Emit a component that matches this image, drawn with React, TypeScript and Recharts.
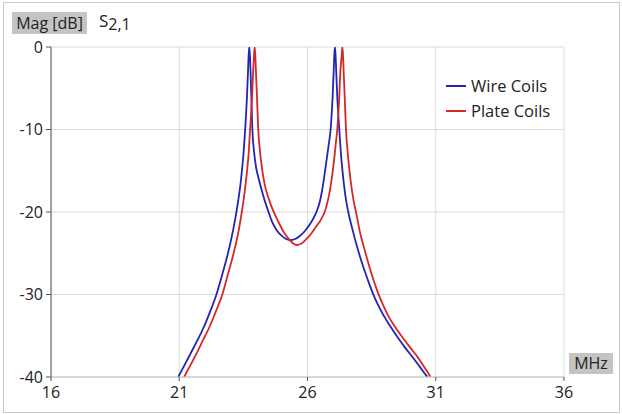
import { LineChart, Line, XAxis, YAxis, CartesianGrid, Legend } from 'recharts';

// S2,1 magnitude, frequency in MHz and magnitude in dB
const wireFreq = [
  20.96, 21.2, 21.45, 21.7, 21.95, 22.2, 22.45, 22.7, 22.9, 23.1, 23.25, 23.41, 23.51, 23.57,
  23.64, 23.68, 23.705, 23.73, 23.755, 23.78, 23.81, 23.85, 23.91, 23.99, 24.1, 24.21, 24.33,
  24.47, 24.62, 24.8, 25.0, 25.15, 25.32, 25.5, 25.7, 25.9, 26.1, 26.25, 26.38, 26.48, 26.55,
  26.64, 26.73, 26.81, 26.9, 26.98, 27.02, 27.045, 27.07, 27.095, 27.12, 27.16, 27.24, 27.3,
  27.38, 27.5, 27.59, 27.76, 27.95, 28.18, 28.36, 28.54, 28.74, 28.96, 29.24, 29.54, 29.82,
  30.12, 30.39, 30.65, 30.68,
];
const wireMag = [
  -40, -38.6, -37.1, -35.6, -34, -32.1, -30, -27.3, -25, -22.2, -19.6, -16, -12.7, -10,
  -6, -3, -1, 0, -1, -3, -6, -10, -12.5, -14.5, -16, -17.3, -18.6,
  -19.9, -21.2, -22.2, -22.9, -23.25, -23.4, -23.3, -22.9, -22.3, -21.45, -20.65, -19.75, -18.75, -17.7,
  -16, -14, -12.2, -10, -6, -3, -1, 0, -1, -3, -6, -10, -12.8,
  -15.5, -18.5, -20, -22.2, -24.4, -26.7, -28.3, -29.8, -31.2, -32.5, -33.9, -35.3, -36.5,
  -37.7, -38.8, -39.9, -40,
];

const plateFreq = [
  21.19, 21.43, 21.68, 21.93, 22.17, 22.42, 22.67, 22.92, 23.12, 23.32, 23.46, 23.61, 23.71,
  23.76, 23.84, 23.88, 23.915, 23.94, 23.965, 23.99, 24.03, 24.08, 24.14, 24.23, 24.34, 24.5,
  24.67, 24.85, 25.05, 25.25, 25.42, 25.6, 25.78, 25.95, 26.15, 26.35, 26.52, 26.68, 26.78,
  26.88, 26.96, 27.04, 27.1, 27.16, 27.24, 27.28, 27.335, 27.36, 27.385, 27.41, 27.45, 27.5,
  27.57, 27.67, 27.79, 27.89, 28.05, 28.22, 28.41, 28.58, 28.76, 28.95, 29.15, 29.43, 29.73,
  30.02, 30.32, 30.55, 30.78, 30.8,
];
const plateMag = [
  -40, -38.6, -37.1, -35.5, -34, -32.1, -30.1, -27.3, -25, -22.2, -19.6, -16, -12.7,
  -10, -6, -3, -1, 0, -1, -3, -6, -10, -12.4, -14.8, -16.8, -18.5,
  -19.9, -21.1, -22.3, -23.2, -23.75, -24, -23.8, -23.3, -22.6, -21.7, -20.95, -19.9, -18.8,
  -17.3, -15.6, -13.6, -11.8, -10, -6, -3, -1, 0, -1, -3, -6, -10,
  -12.9, -15.9, -18.5, -20, -22.5, -24.5, -26.6, -28.3, -29.9, -31.3, -32.6, -34, -35.3,
  -36.5, -37.7, -38.8, -39.9, -40,
];

const xTicks = [16, 21, 26, 31, 36];
const yTicks = [-40, -30, -20, -10, 0];

const wireData = wireFreq.map((f, i) => ({ f, mag: wireMag[i] }));
const plateData = plateFreq.map((f, i) => ({ f, mag: plateMag[i] }));

const FONT = '"Open Sans", "Noto Sans", sans-serif';
const BLUE = '#2424b4';
const RED = '#d42828';

function LegendBox() {
  const items = [
    { label: 'Wire Coils', color: BLUE },
    { label: 'Plate Coils', color: RED },
  ];
  return (
    <div style={{ fontFamily: FONT, fontSize: 16.5, color: '#222' }}>
      {items.map((it) => (
        <div key={it.label} style={{ display: 'flex', alignItems: 'center', height: 25 }}>
          <span style={{ display: 'inline-block', width: 20, height: 2, background: it.color, marginRight: 5 }} />
          <span>{it.label}</span>
        </div>
      ))}
    </div>
  );
}

export default function App() {
  return (
    <div
      style={{
        position: 'fixed',
        left: 0,
        top: 0,
        width: 622,
        height: 414,
        background: '#fff',
        fontFamily: FONT,
      }}
    >
      <div
        style={{
          position: 'absolute',
          left: 3,
          top: 2,
          width: 615,
          height: 409,
          border: '1px solid #c8c8c8',
        }}
      />
      <LineChart width={622} height={414} margin={{ top: 47, right: 58, bottom: 7, left: 11 }}>
        <CartesianGrid stroke="#dadada" strokeWidth={1} />
        <XAxis
          type="number"
          dataKey="f"
          domain={[16, 36]}
          ticks={xTicks}
          allowDataOverflow
          height={30}
          stroke="#c4c4c4"
          tickSize={4}
          tickLine={{ stroke: '#555' }}
          tick={{ fill: '#222', fontSize: 16, fontFamily: FONT, dy: 4 }}
        />
        <YAxis
          type="number"
          dataKey="mag"
          domain={[-40, 0]}
          ticks={yTicks}
          allowDataOverflow
          width={40}
          stroke="#555"
          tickSize={5}
          tick={{ fill: '#222', fontSize: 16, fontFamily: FONT, dx: -1 }}
        />
        <Legend
          layout="vertical"
          verticalAlign="middle"
          align="center"
          wrapperStyle={{ top: 73, left: 446, width: 140 }}
          content={() => <LegendBox />}
        />
        <Line
          data={wireData}
          dataKey="mag"
          type="monotone"
          stroke={BLUE}
          strokeWidth={1.8}
          dot={false}
          isAnimationActive={false}
        />
        <Line
          data={plateData}
          dataKey="mag"
          type="monotone"
          stroke={RED}
          strokeWidth={1.8}
          dot={false}
          isAnimationActive={false}
        />
      </LineChart>
      <div
        style={{
          position: 'absolute',
          left: 12,
          top: 12,
          width: 75,
          height: 22,
          background: '#c4c4c4',
          fontSize: 16,
          color: '#222',
          lineHeight: '22px',
          textAlign: 'center',
        }}
      >
        Mag [dB]
      </div>
      <div style={{ position: 'absolute', left: 99, top: 9, fontSize: 17, color: '#222', lineHeight: '24px' }}>
        S<sub style={{ fontSize: 16, verticalAlign: '-3px' }}>2,1</sub>
      </div>
      <div
        style={{
          position: 'absolute',
          left: 569,
          top: 353,
          width: 44,
          height: 21,
          background: '#c4c4c4',
          fontSize: 16,
          color: '#222',
          lineHeight: '21px',
          textAlign: 'center',
        }}
      >
        MHz
      </div>
    </div>
  );
}
